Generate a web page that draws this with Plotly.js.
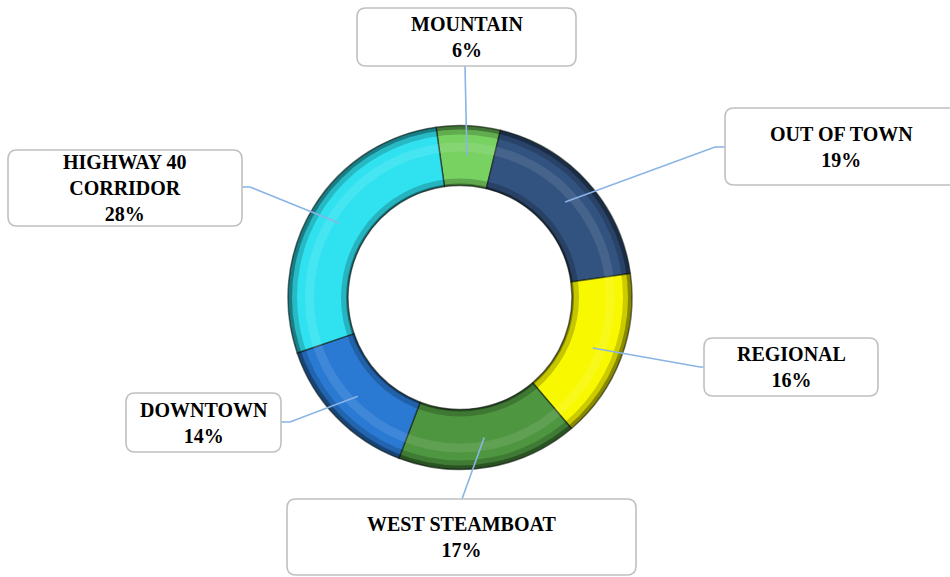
<!DOCTYPE html>
<html>
<head>
<meta charset="utf-8">
<script src="https://cdn.plot.ly/plotly-3.0.1.min.js"></script>
<style>html,body{margin:0;padding:0;background:#fff;}#chart{width:950px;height:577px;}</style>
</head>
<body>
<div id="chart"></div>
<script>
// ---- data ----
const labels = ['MOUNTAIN', 'OUT OF TOWN', 'REGIONAL', 'WEST STEAMBOAT', 'DOWNTOWN', 'HIGHWAY 40 CORRIDOR'];
const boxLabels = ['MOUNTAIN', 'OUT OF TOWN', 'REGIONAL', 'WEST STEAMBOAT', 'DOWNTOWN', 'HIGHWAY 40<br>CORRIDOR'];
const values = [6, 19, 16, 17, 14, 28];
const colors = ['#78d262', '#32527f', '#f8f800', '#4e9640', '#2a7ad4', '#30e2f0'];

// ---- layout geometry (pixels) ----
const W = 950, H = 577;
const CX = 460, CY = 297.5, R = 172, RIN = 112, ROT = -8;
// label boxes: [x0, y0, x1, y1]
const boxes = [
  [357, 8, 576, 66],
  [725, 108, 958, 185],
  [704, 338, 878, 396],
  [287, 499, 636, 575],
  [126, 393, 281, 452],
  [8, 150, 242, 226]
];
// leader line elbow / end points near each box
const legs = [
  [[465, 66]],
  [[715, 147], [725, 147]],
  [[700, 367], [704, 367]],
  [[462, 499]],
  [[290, 422], [281, 422]],
  [[250, 187], [242, 187]]
];

const px = x => x / W;
const py = y => 1 - y / H;
function dom(r) {
  return { x: [px(CX - r), px(CX + r)], y: [py(CY + r), py(CY - r)] };
}
function ring(r0, r1, color) {
  return {
    type: 'pie', values: [1], sort: false, hole: r0 / r1, domain: dom(r1),
    marker: { colors: [color], line: { width: 0 } }, textinfo: 'none',
    hoverinfo: 'skip', showlegend: false
  };
}

const traces = [
  {
    type: 'pie', labels: labels, values: values, sort: false, direction: 'clockwise',
    rotation: ROT, hole: RIN / R, domain: dom(R), textinfo: 'none',
    marker: { colors: colors, line: { color: 'rgba(20,30,20,0.6)', width: 1.5 } },
    showlegend: false, hoverinfo: 'label+percent'
  },
  ring(163, 172, 'rgba(0,0,0,0.18)'),
  ring(168, 172, 'rgba(0,0,0,0.32)'),
  ring(146, 155, 'rgba(255,255,255,0.10)'),
  ring(112, 119, 'rgba(0,0,0,0.20)'),
  ring(112, 114, 'rgba(0,0,0,0.35)')
];

// slice midpoints from data
const total = values.reduce((a, b) => a + b, 0);
const RMID = (R + RIN) / 2;
let cum = 0;
const shapes = [];
const annotations = [];
values.forEach((v, i) => {
  const a = (ROT + (cum + v / 2) / total * 360) * Math.PI / 180;
  cum += v;
  const pxx = CX + RMID * Math.sin(a), pyy = CY - RMID * Math.cos(a);
  let path = `M${px(pxx)},${py(pyy)}`;
  legs[i].forEach(p => { path += ` L${px(p[0])},${py(p[1])}`; });
  shapes.push({ type: 'path', xref: 'paper', yref: 'paper', path: path,
    line: { color: '#8ab4e6', width: 1.6 } });
});
boxes.forEach((b, i) => {
  const [x0, y0, x1, y1] = b, c = 9;
  const path = `M${px(x0 + c)},${py(y0)} L${px(x1 - c)},${py(y0)} Q${px(x1)},${py(y0)} ${px(x1)},${py(y0 + c)}` +
    ` L${px(x1)},${py(y1 - c)} Q${px(x1)},${py(y1)} ${px(x1 - c)},${py(y1)}` +
    ` L${px(x0 + c)},${py(y1)} Q${px(x0)},${py(y1)} ${px(x0)},${py(y1 - c)}` +
    ` L${px(x0)},${py(y0 + c)} Q${px(x0)},${py(y0)} ${px(x0 + c)},${py(y0)} Z`;
  shapes.push({ type: 'path', xref: 'paper', yref: 'paper', path: path,
    fillcolor: '#ffffff', line: { color: '#c0c0c0', width: 1.6 } });
  const tx = i === 1 ? 841 : (x0 + x1) / 2;
  annotations.push({
    xref: 'paper', yref: 'paper', x: px(tx), y: py((y0 + y1) / 2),
    xanchor: 'center', yanchor: 'middle', showarrow: false,
    text: `${boxLabels[i]}<br>${values[i]}%`,
    font: { family: 'Liberation Serif', size: 20, color: '#000', weight: 'bold' }
  });
});

const layout = {
  width: W, height: H, margin: { l: 0, r: 0, t: 0, b: 0 },
  paper_bgcolor: '#ffffff', plot_bgcolor: '#ffffff', showlegend: false,
  shapes: shapes, annotations: annotations
};
Plotly.newPlot('chart', traces, layout, { displayModeBar: false, staticPlot: true });
</script>
</body>
</html>
